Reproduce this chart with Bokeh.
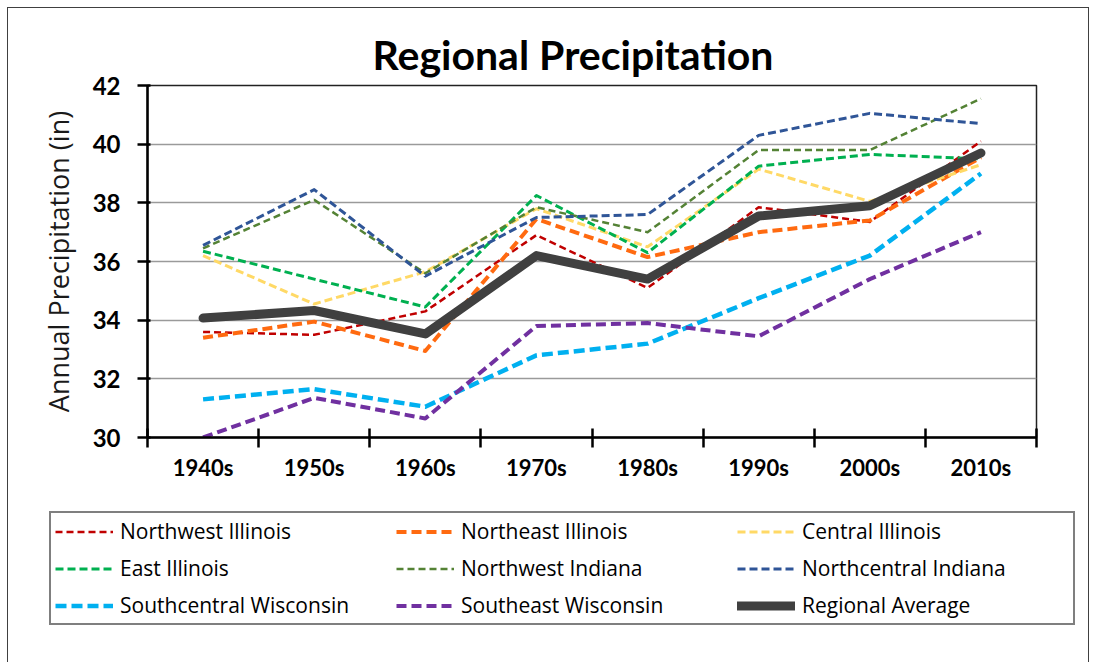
from bokeh.plotting import figure
from bokeh.models import Range1d, FixedTicker, Legend, LegendItem
from bokeh.layouts import column
from bokeh.embed import file_html
from bokeh.resources import INLINE

decades = ["1940s", "1950s", "1960s", "1970s", "1980s", "1990s", "2000s", "2010s"]

northwest_illinois = [33.60, 33.50, 34.30, 36.90, 35.10, 37.85, 37.35, 40.10]
northeast_illinois = [33.40, 33.95, 32.95, 37.45, 36.15, 37.00, 37.40, 39.55]
central_illinois = [36.20, 34.55, 35.65, 37.80, 36.50, 39.15, 38.05, 39.30]
east_illinois = [36.35, 35.40, 34.45, 38.25, 36.30, 39.25, 39.65, 39.50]
northwest_indiana = [36.45, 38.10, 35.60, 37.85, 37.00, 39.80, 39.80, 41.55]
northcentral_indiana = [36.55, 38.45, 35.50, 37.50, 37.60, 40.30, 41.05, 40.70]
southcentral_wisconsin = [31.30, 31.65, 31.05, 32.80, 33.20, 34.75, 36.20, 39.00]
southeast_wisconsin = [30.00, 31.35, 30.65, 33.80, 33.90, 33.45, 35.40, 37.00]
regional_average = [34.07, 34.33, 33.53, 36.20, 35.40, 37.55, 37.90, 39.70]

series_names = ["Northwest Illinois", "Northeast Illinois", "Central Illinois",
                "East Illinois", "Northwest Indiana", "Northcentral Indiana",
                "Southcentral Wisconsin", "Southeast Wisconsin", "Regional Average"]
series_values = [northwest_illinois, northeast_illinois, central_illinois,
                 east_illinois, northwest_indiana, northcentral_indiana,
                 southcentral_wisconsin, southeast_wisconsin, regional_average]

colors = ["#C00000", "#FF6A10", "#FFD966", "#00B050", "#548235", "#2F5597",
          "#00B0F0", "#7030A0", "#404040"]
widths = [2.5, 4, 3, 3, 2.5, 3, 4.5, 4, 9]
dashes = ["7 4", "10 5", "8 4", "8 4", "7 4", "8 4", "11 5", "10 5", "solid"]

xs = [i + 0.5 for i in range(len(decades))]

# ---------------- main chart ----------------
p = figure(width=1080, height=492, output_backend="svg", toolbar_location=None,
           x_range=Range1d(0, len(decades)), y_range=Range1d(30, 42),
           min_border_left=139, min_border_right=52, min_border_top=77,
           min_border_bottom=63)
p.frame_align = False
p.background_fill_color = "white"
p.border_fill_color = "white"
p.outline_line_color = "#222222"
p.outline_line_width = 1.5

p.title.text = "Regional Precipitation"
p.title.text_font = "Lato"
p.title.text_font_style = "bold"
p.title.text_font_size = "41px"
p.title.text_color = "black"
p.title.align = "left"
p.title.offset = 225
p.title.standoff = 14

p.xgrid.visible = False
p.ygrid.grid_line_color = "#9a9a9a"
p.ygrid.grid_line_width = 1.5

p.yaxis.ticker = FixedTicker(ticks=[30, 32, 34, 36, 38, 40, 42])
p.yaxis.axis_line_color = "black"
p.yaxis.axis_line_width = 2.5
p.yaxis.major_tick_line_color = "black"
p.yaxis.major_tick_line_width = 2.5
p.yaxis.major_tick_out = 10
p.yaxis.major_tick_in = 3
p.yaxis.minor_tick_line_color = None
p.yaxis.major_label_text_font = "Lato"
p.yaxis.major_label_text_font_style = "bold"
p.yaxis.major_label_text_font_size = "24px"
p.yaxis.major_label_text_color = "black"
p.yaxis.major_label_standoff = 17
p.yaxis.axis_label = "Annual Precipitation (in)"
p.yaxis.axis_label_text_font = "Open Sans"
p.yaxis.axis_label_text_font_style = "normal"
p.yaxis.axis_label_text_font_size = "27px"
p.yaxis.axis_label_text_color = "#1a1a1a"
p.yaxis.axis_label_standoff = 13

p.xaxis.ticker = FixedTicker(ticks=xs, minor_ticks=list(range(len(decades) + 1)))
p.xaxis.major_label_overrides = {x: d for x, d in zip(xs, decades)}
p.xaxis.axis_line_color = "black"
p.xaxis.axis_line_width = 2.5
p.xaxis.major_tick_line_color = None
p.xaxis.major_tick_out = 0
p.xaxis.major_tick_in = 0
p.xaxis.minor_tick_line_color = "black"
p.xaxis.minor_tick_line_width = 2.5
p.xaxis.minor_tick_out = 10
p.xaxis.minor_tick_in = 9
p.xaxis.major_label_text_font = "Lato"
p.xaxis.major_label_text_font_style = "bold"
p.xaxis.major_label_text_font_size = "22px"
p.xaxis.major_label_text_color = "black"
p.xaxis.major_label_standoff = 6

for name, vals, c, w, d in zip(series_names, series_values, colors, widths, dashes):
    p.line(xs, vals, line_color=c, line_width=w, line_dash=d,
           line_join="round", line_cap="round" if d == "solid" else "butt")

# ---------------- legend strip (series drawn outside its view; only the key shows) ----
lg = figure(width=1080, height=162, output_backend="svg", toolbar_location=None,
            x_range=Range1d(0, 1), y_range=Range1d(0, 1),
            x_axis_location=None, y_axis_location=None,
            min_border_left=0, min_border_right=0, min_border_top=0,
            min_border_bottom=0)
lg.frame_align = False
lg.outline_line_color = None
lg.xgrid.visible = False
lg.ygrid.visible = False
lg.background_fill_color = "white"
lg.border_fill_color = "white"

items = []
for name, vals, c, w, d in zip(series_names, series_values, colors, widths, dashes):
    r = lg.line(xs, vals, line_color=c, line_width=w, line_dash=d,
                line_cap="round" if d == "solid" else "butt")
    items.append(LegendItem(label=name, renderers=[r]))

legend = Legend(items=items, location=(41, 37), orientation="horizontal",
                ncols=3, glyph_width=58, glyph_height=23, label_height=23,
                label_width=267, label_standoff=7, spacing=9, padding=4,
                margin=0,
                border_line_color="black", border_line_width=2,
                label_text_font="Open Sans", label_text_font_size="21px",
                label_text_color="black", background_fill_color="white",
                background_fill_alpha=1.0)
lg.add_layout(legend)

layout = column(p, lg, spacing=0)
layout.styles = {"outline": "1px solid #404040", "margin-left": "8px", "margin-top": "8px"}

open("out.html", "w").write(file_html(layout, INLINE))
